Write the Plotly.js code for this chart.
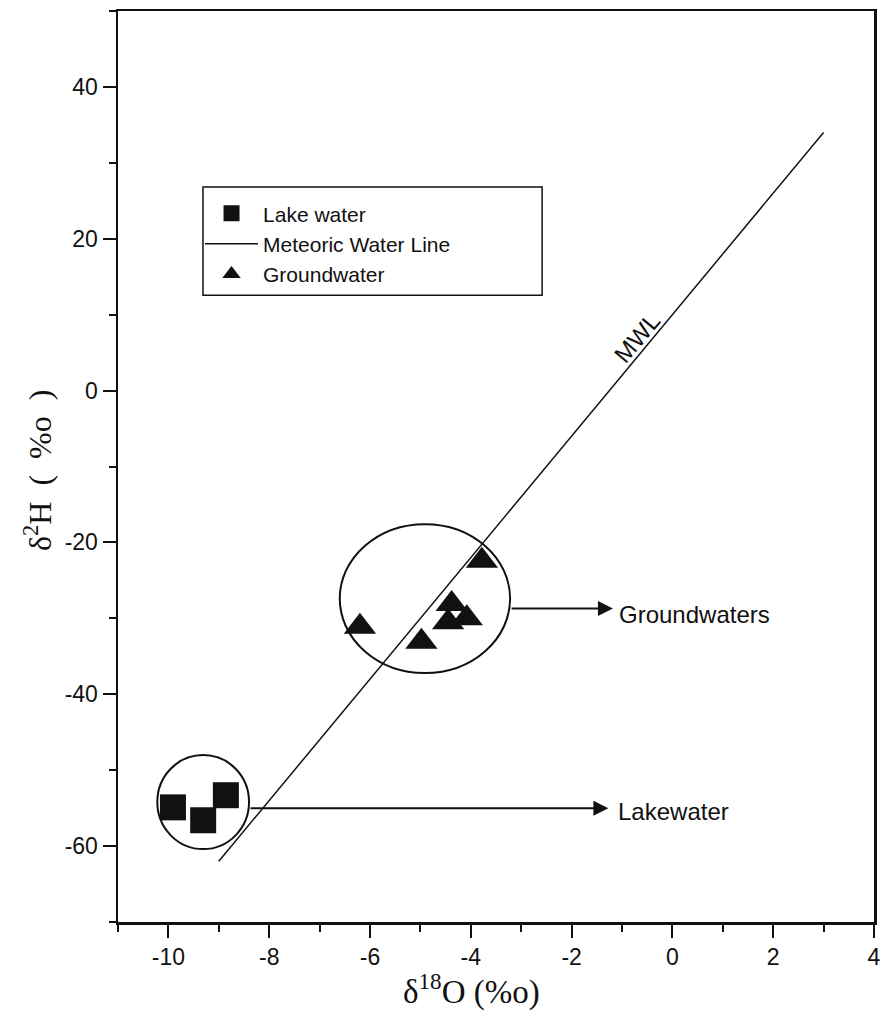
<!DOCTYPE html>
<html>
<head>
<meta charset="utf-8">
<script src="https://cdn.plot.ly/plotly-3.0.1.min.js"></script>
<style>html,body{margin:0;padding:0;background:#fff;}#chart{width:885px;height:1013px;}</style>
</head>
<body>
<div id="chart"></div>
<script>
// ---- data ----
const lakeX = [-9.91, -9.31, -8.86];
const lakeY = [-54.9, -56.6, -53.3];
const gwX = [-3.78, -6.20, -4.98, -4.38, -4.45, -4.08];
const gwY = [-22.4, -31.1, -33.1, -28.1, -30.5, -30.0];
const mwlX = [-9, 3];
const mwlY = [-62, 34];
const xTickVals = [-10, -8, -6, -4, -2, 0, 2, 4];
const xTickText = ['-10', '-8', '-6', '-4', '-2', '0', '2', '4'];
const yTickVals = [-60, -40, -20, 0, 20, 40];
const yTickText = ['-60', '-40', '-20', '0', '20', '40'];
// circled groups [x0, x1, y0, y1]
const gwCircle = [-6.60, -3.22, -37.2, -17.6];
const lakeCircle = [-10.22, -8.40, -60.4, -48.0];
// pointer arrows [tailX, tipX, y]
const gwArrow = [-3.22, -1.18, -28.7];
const lakeArrow = [-8.40, -1.27, -55.0];
const gwLabel = {text: 'Groundwaters', x: -1.10, y: -29.5};
const lakeLabel = {text: 'Lakewater', x: -1.12, y: -55.5};
const mwlLabel = {text: 'MWL', x: -0.70, y: 7.0};
const xTitle = 'δ<sup>18</sup>O (%o)';
const yTitle = 'δ<sup>2</sup>H\u00A0\u00A0(\u00A0\u00A0%o\u00A0\u00A0)';

const sans = 'Liberation Sans, Arial, sans-serif';
const serif = 'Liberation Serif, Times New Roman, serif';

const traces = [
  {x: lakeX, y: lakeY, name: 'Lake water', type: 'scatter', mode: 'markers',
   marker: {symbol: 'square', size: 26, color: '#111'}},
  {x: mwlX, y: mwlY, name: 'Meteoric Water Line', type: 'scatter', mode: 'lines',
   line: {color: '#111', width: 1.5}},
  {x: gwX, y: gwY, name: 'Groundwater', type: 'scatter', mode: 'markers',
   marker: {symbol: 'triangle-up', size: 28, color: '#111'}}
];

function arrowAnn(a) {
  return {x: a[1], y: a[2], ax: a[0], ay: a[2], xref: 'x', yref: 'y', axref: 'x', ayref: 'y',
    text: '', showarrow: true, arrowhead: 2, arrowsize: 1.5, arrowwidth: 2, arrowcolor: '#111',
    standoff: 0, startstandoff: 0};
}
function textAnn(t, size) {
  return {x: t.x, y: t.y, xref: 'x', yref: 'y', text: t.text, showarrow: false,
    xanchor: 'left', yanchor: 'middle', font: {family: sans, size: size, color: '#111'}};
}

const layout = {
  width: 885, height: 1013,
  margin: {l: 118, r: 11, t: 11, b: 91},
  paper_bgcolor: '#fff', plot_bgcolor: '#fff',
  showlegend: true,
  legend: {x: 0.1085, y: 0.800, xanchor: 'left', yanchor: 'top', bgcolor: 'rgba(0,0,0,0)',
    borderwidth: 0, itemwidth: 53, font: {family: sans, size: 21, color: '#111'}, tracegroupgap: 0},
  xaxis: {range: [-11, 4], tickvals: xTickVals, ticktext: xTickText,
    showline: true, mirror: true, linecolor: '#111', linewidth: 2.5,
    showgrid: false, zeroline: false,
    ticks: 'outside', ticklen: 13, tickwidth: 2, tickcolor: '#111',
    minor: {dtick: 1, tick0: 0, ticks: 'outside', ticklen: 7, tickwidth: 2, tickcolor: '#111', showgrid: false},
    tickfont: {family: sans, size: 23, color: '#111'}},
  yaxis: {range: [-70, 50], tickvals: yTickVals, ticktext: yTickText,
    showline: true, mirror: true, linecolor: '#111', linewidth: 2.5,
    showgrid: false, zeroline: false,
    ticks: 'outside', ticklen: 13, tickwidth: 2, tickcolor: '#111',
    minor: {dtick: 10, tick0: 0, ticks: 'outside', ticklen: 7, tickwidth: 2, tickcolor: '#111', showgrid: false},
    tickfont: {family: sans, size: 23, color: '#111'}},
  shapes: [
    {type: 'circle', xref: 'x', yref: 'y', x0: gwCircle[0], x1: gwCircle[1], y0: gwCircle[2], y1: gwCircle[3],
     line: {color: '#111', width: 2}},
    {type: 'circle', xref: 'x', yref: 'y', x0: lakeCircle[0], x1: lakeCircle[1], y0: lakeCircle[2], y1: lakeCircle[3],
     line: {color: '#111', width: 2}},
    {type: 'rect', xref: 'paper', yref: 'paper', x0: 0.1124, x1: 0.561, y0: 0.688, y1: 0.8068,
     line: {color: '#111', width: 1.5}}
  ],
  annotations: [
    arrowAnn(gwArrow), arrowAnn(lakeArrow),
    textAnn(gwLabel, 24), textAnn(lakeLabel, 24),
    {x: mwlLabel.x, y: mwlLabel.y, xref: 'x', yref: 'y', text: mwlLabel.text, showarrow: false,
     textangle: -50, font: {family: sans, size: 24, color: '#111'}},
    {x: 0.468, y: -0.074, xref: 'paper', yref: 'paper', text: xTitle, showarrow: false,
     xanchor: 'center', yanchor: 'middle', font: {family: serif, size: 33, color: '#111'}},
    {x: -0.106, y: 0.496, xref: 'paper', yref: 'paper', text: yTitle, showarrow: false,
     textangle: -90, xanchor: 'center', yanchor: 'middle', font: {family: serif, size: 32, color: '#111'}}
  ]
};

Plotly.newPlot('chart', traces, layout, {displayModeBar: false, staticPlot: true});
</script>
</body>
</html>
